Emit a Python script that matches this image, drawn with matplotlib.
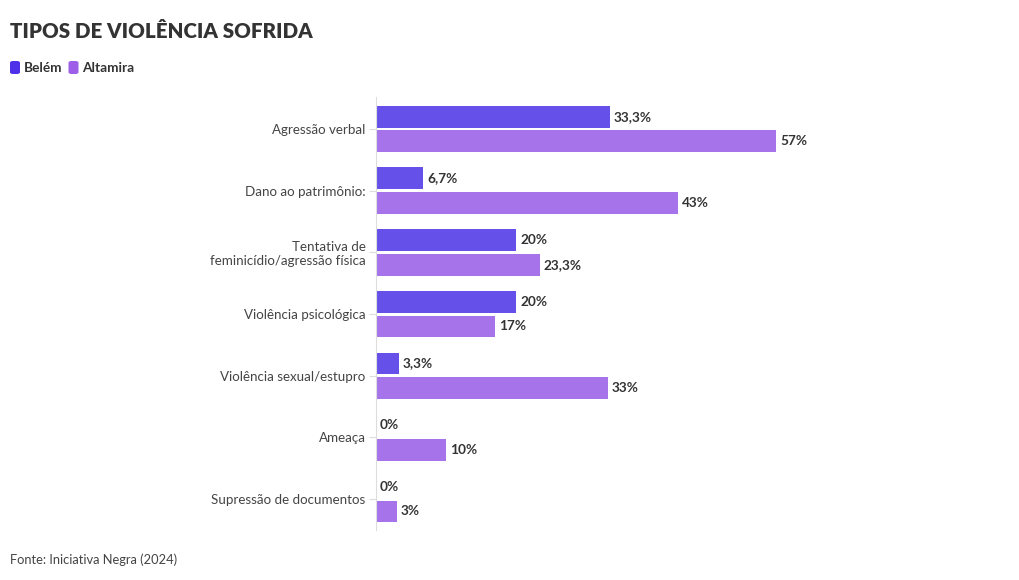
import matplotlib.pyplot as plt
import numpy as np

categories = ["Agressão verbal", "Dano ao patrimônio:", "Tentativa de\nfeminicídio/agressão física",
              "Violência psicológica", "Violência sexual/estupro", "Ameaça", "Supressão de documentos"]
belem = [33.3, 6.7, 20, 20, 3.3, 0, 0]
altamira = [57, 43, 23.3, 17, 33, 10, 3]
belem_labels = ["33,3%", "6,7%", "20%", "20%", "3,3%", "0%", "0%"]
altamira_labels = ["57%", "43%", "23,3%", "17%", "33%", "10%", "3%"]
series = ["Belém", "Altamira"]

plt.rcParams['font.family'] = ['Lato', 'DejaVu Sans']
W, H = 1020, 580
fig = plt.figure(figsize=(W/100, H/100), dpi=100)
ax = fig.add_axes([376/W, 1-530/H, (1010-376)/W, (530-97)/H])

c_b = "#6551EA"
c_a = "#A773EA"
y = np.arange(len(categories))
h = 0.355
ax.barh(y-0.2, belem, height=h, color=c_b)
ax.barh(y+0.2, altamira, height=h, color=c_a)
for yi, v, l in zip(y, belem, belem_labels):
    ax.text(v+0.55, yi-0.2, l, va='center', ha='left', fontsize=9.8, fontweight='bold', color='#333333')
for yi, v, l in zip(y, altamira, altamira_labels):
    ax.text(v+0.55, yi+0.2, l, va='center', ha='left', fontsize=9.8, fontweight='bold', color='#333333')

ax.set_xlim(0, (1010-376)/7.018)
ax.set_ylim(6.5, -0.52)
ax.set_yticks(y)
ax.set_yticklabels(categories, fontsize=9.6, color='#444444', linespacing=1.15)
ax.tick_params(axis='y', length=5, color='#dddddd', pad=2.5)
ax.set_xticks([])
for s in ['top', 'right', 'bottom']:
    ax.spines[s].set_visible(False)
ax.spines['left'].set_color('#dddddd')
ax.spines['left'].set_linewidth(0.8)
for t in ax.get_yticklabels():
    t.set_multialignment('right')

fig.text(10/W, 1-31/H, "TIPOS DE VIOLÊNCIA SOFRIDA", fontsize=14.8, fontweight='heavy', color='#333333', va='center')
# legend
from matplotlib.patches import FancyBboxPatch
lx = 10
for name, col in zip(series, ["#4D30E8", "#9D5EE8"]):
    p = FancyBboxPatch((lx/W, 1-74/H), 10/W, 13/H, boxstyle="round,pad=0,rounding_size=0.003",
                       transform=fig.transFigure, color=col, linewidth=0)
    fig.patches.append(p)
    t = fig.text((lx+14)/W, 1-67.5/H, name, fontsize=9.8, fontweight='bold', color='#333333', va='center')
    fig.canvas.draw()
    bb = t.get_window_extent()
    lx = bb.x1 + 6

fig.text(10/W, 1-560/H, "Fonte: Iniciativa Negra (2024)", fontsize=9.3, color='#444444', va='center')
fig.savefig("out.png", dpi=100)
